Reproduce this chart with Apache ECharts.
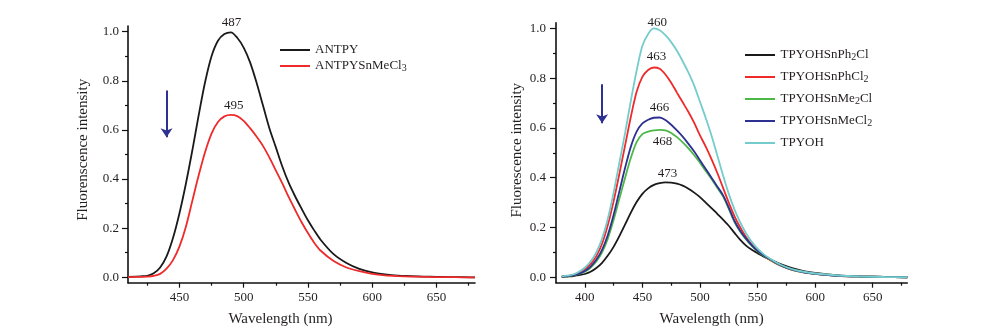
<!DOCTYPE html>
<html><head><meta charset="utf-8">
<script src="https://cdn.jsdelivr.net/npm/echarts@6/dist/echarts.min.js"></script>
<style>html,body{margin:0;padding:0;background:#fff}#c{width:981px;height:335px}</style>
</head><body><div id="c"></div>
<script>
// ---------- data ----------
const leftWavelength = [410,420,425,430,435,440,445,450,455,460,465,470,475,480,485,490,495,500,505,510,515,520,525,530,535,540,545,550,555,560,570,580,590,600,610,620,630,640,650,660,670,680];
const antpy = [0.002,0.004,0.006,0.016,0.04,0.085,0.16,0.26,0.38,0.515,0.66,0.795,0.9,0.963,0.99,0.997,0.975,0.935,0.875,0.793,0.7,0.607,0.53,0.452,0.385,0.33,0.28,0.232,0.19,0.152,0.094,0.058,0.034,0.02,0.012,0.007,0.005,0.003,0.002,0.001,0.001,0];
const antpySnMeCl3 = [0.001,0.002,0.003,0.006,0.014,0.035,0.07,0.125,0.205,0.31,0.415,0.51,0.585,0.632,0.655,0.661,0.656,0.637,0.607,0.573,0.535,0.488,0.435,0.383,0.327,0.275,0.225,0.18,0.14,0.108,0.066,0.04,0.025,0.014,0.008,0.005,0.003,0.002,0.001,0.001,0,0];

const rightWavelength = [380,385,390,395,400,405,410,415,420,425,430,435,440,445,450,455,460,465,470,475,480,485,490,495,500,505,510,515,520,525,530,535,540,545,550,555,560,570,580,590,600,620,640,660,680];
const tpyohSnPh2Cl = [0.001,0.003,0.005,0.008,0.013,0.022,0.037,0.058,0.087,0.122,0.165,0.212,0.26,0.302,0.335,0.357,0.371,0.378,0.381,0.38,0.376,0.368,0.356,0.34,0.322,0.3,0.278,0.255,0.232,0.207,0.178,0.15,0.127,0.11,0.097,0.084,0.073,0.053,0.037,0.025,0.017,0.007,0.003,0.001,0];
const tpyohSnPhCl2 = [0.002,0.005,0.009,0.018,0.032,0.053,0.085,0.135,0.21,0.305,0.415,0.53,0.645,0.745,0.805,0.833,0.843,0.838,0.815,0.782,0.742,0.703,0.664,0.62,0.57,0.525,0.475,0.42,0.36,0.3,0.245,0.2,0.162,0.132,0.11,0.089,0.071,0.046,0.03,0.02,0.014,0.006,0.003,0.001,0];
const tpyohSnMe2Cl = [0.002,0.004,0.007,0.013,0.022,0.038,0.063,0.1,0.155,0.23,0.315,0.4,0.48,0.543,0.575,0.585,0.59,0.592,0.59,0.58,0.563,0.542,0.518,0.49,0.46,0.427,0.395,0.36,0.325,0.275,0.222,0.183,0.152,0.126,0.104,0.087,0.073,0.047,0.03,0.02,0.014,0.006,0.003,0.001,0];
const tpyohSnMeCl2 = [0.002,0.004,0.008,0.014,0.025,0.043,0.07,0.11,0.17,0.25,0.345,0.44,0.525,0.585,0.618,0.633,0.641,0.642,0.632,0.613,0.59,0.565,0.536,0.505,0.47,0.435,0.4,0.365,0.33,0.28,0.226,0.186,0.155,0.128,0.106,0.089,0.075,0.048,0.03,0.02,0.014,0.006,0.003,0.001,0];
const tpyoh = [0.003,0.006,0.011,0.022,0.038,0.063,0.1,0.155,0.235,0.34,0.46,0.58,0.71,0.83,0.93,0.978,1.0,0.993,0.973,0.945,0.91,0.868,0.822,0.77,0.705,0.64,0.57,0.49,0.41,0.335,0.272,0.22,0.177,0.142,0.115,0.094,0.077,0.05,0.033,0.022,0.015,0.007,0.003,0.001,0];

const yMajorTicks = [0,0.2,0.4,0.6,0.8,1.0];
const yMinorTicks = [0.1,0.3,0.5,0.7,0.9];
const leftXMajor = [450,500,550,600,650];
const leftXMinor = [425,475,525,575,625,675];
const rightXMajor = [400,450,500,550,600,650];
const rightXMinor = [425,475,525,575,625,675];

const leftPeakLabels = [{text:'487', x:490.5, y:1.0, pos:'top', dist:3, series:0},
                        {text:'495', x:492.3, y:0.66, pos:'top', dist:3, series:1}];
const rightPeakLabels = [{text:'460', x:463, y:0.985, pos:'top', dist:3, series:4},
                         {text:'463', x:462.2, y:0.843, pos:'top', dist:4, series:1},
                         {text:'466', x:464.8, y:0.642, pos:'top', dist:3, series:3},
                         {text:'468', x:467.4, y:0.59, pos:'bottom', dist:5, series:2},
                         {text:'473', x:471.8, y:0.381, pos:'top', dist:2, series:0}];
const leftArrow = {x:440, from:0.76, to:0.57};
const rightArrow = {x:415, from:0.776, to:0.619};

const leftNames = ['ANTPY','ANTPYSnMeCl3'];
const rightNames = ['TPYOHSnPh2Cl','TPYOHSnPhCl2','TPYOHSnMe2Cl','TPYOHSnMeCl2','TPYOH'];
const legendRich = {
  'ANTPY':'{n|ANTPY}',
  'ANTPYSnMeCl3':'{n|ANTPYSnMeCl}{s|3}',
  'TPYOHSnPh2Cl':'{n|TPYOHSnPh}{s|2}{n|Cl}',
  'TPYOHSnPhCl2':'{n|TPYOHSnPhCl}{s|2}',
  'TPYOHSnMe2Cl':'{n|TPYOHSnMe}{s|2}{n|Cl}',
  'TPYOHSnMeCl2':'{n|TPYOHSnMeCl}{s|2}',
  'TPYOH':'{n|TPYOH}'
};

// ---------- style ----------
const FONT = 'Liberation Serif';
const TXT = '#231f20';
const AX = '#111';
const ARROW = '#2e3192';
const leftColors = ['#1a1a1a','#ee2a2a'];
const rightColors = ['#1a1a1a','#ee2a2a','#4cb848','#2e3192','#74cccc'];

function pairs(xs, ys){ return xs.map((x,i)=>[x, ys[i]]); }
function lineIcon(h){
  const a = h/2 - 0.9, b = h/2 + 0.9;
  return 'path://M0,0L0.01,0L0.01,0.01L0,0.01Z M0,'+a+'L30,'+a+'L30,'+b+'L0,'+b+'Z M29.99,'+(h-0.01)+'L30,'+(h-0.01)+'L30,'+h+'L29.99,'+h+'Z';
}

function xAxes(gridIndex, min, max, major, minor, namePadR){
  return [{
    type:'value', gridIndex, min, max, position:'bottom',
    name:'Wavelength (nm)', nameLocation:'middle', nameGap:29,
    nameTextStyle:{fontFamily:FONT,fontSize:15,color:TXT,padding:[0,namePadR,0,0]},
    axisLine:{show:true,onZero:false,lineStyle:{color:AX,width:1.6}},
    axisTick:{show:true,inside:false,length:5,customValues:major,lineStyle:{color:AX,width:1.2}},
    axisLabel:{show:true,customValues:major,margin:8,fontFamily:FONT,fontSize:13,color:TXT},
    splitLine:{show:false}
  },{
    type:'value', gridIndex, min, max, position:'bottom',
    axisLine:{show:false,onZero:false},
    axisTick:{show:true,inside:false,length:3,customValues:minor,lineStyle:{color:AX,width:1.2}},
    axisLabel:{show:false}, splitLine:{show:false}
  }];
}
function yAxes(gridIndex, name, nameGap, labelMargin, namePadL){
  return [{
    type:'value', gridIndex, min:-0.022, max:1.023, position:'left',
    name, nameLocation:'middle', nameGap,
    nameTextStyle:{fontFamily:FONT,fontSize:15,color:TXT,padding:[0,0,0,namePadL]},
    axisLine:{show:true,onZero:false,lineStyle:{color:AX,width:1.6}},
    axisTick:{show:true,inside:false,length:6,customValues:yMajorTicks,lineStyle:{color:AX,width:1.2}},
    axisLabel:{show:true,customValues:yMajorTicks,formatter:v=>Number(v).toFixed(1),margin:labelMargin,fontFamily:FONT,fontSize:13,color:TXT},
    splitLine:{show:false}
  },{
    type:'value', gridIndex, min:-0.022, max:1.023, position:'left',
    axisLine:{show:false,onZero:false},
    axisTick:{show:true,inside:false,length:3,customValues:yMinorTicks,lineStyle:{color:AX,width:1.2}},
    axisLabel:{show:false}, splitLine:{show:false}
  }];
}

function lineSeries(name, xs, ys, color, xi, yi){
  return {
    type:'line', name, data:pairs(xs, ys), xAxisIndex:xi, yAxisIndex:yi,
    symbol:'none', smooth:0.3, color,
    lineStyle:{color, width:1.8}, emphasis:{disabled:true}, silent:true, z:3
  };
}
function addPeakLabels(seriesArr, labels){
  labels.forEach(l=>{
    const s = seriesArr[l.series];
    if(!s.markPoint) s.markPoint = {symbol:'circle', symbolSize:0, silent:true, animation:false, data:[]};
    s.markPoint.data.push({name:l.text, coord:[l.x,l.y],
      label:{show:true, position:l.pos, distance:l.dist, formatter:'{b}', fontFamily:FONT, fontSize:13, color:TXT}});
  });
}
function addArrow(s, a){
  s.markLine = {silent:true, animation:false, symbol:['none','arrow'], symbolSize:9,
    lineStyle:{color:ARROW,width:2,type:'solid'}, label:{show:false}, emphasis:{disabled:true},
    data:[[{coord:[a.x,a.from]},{coord:[a.x,a.to]}]]};
}

const leftSeries = [
  lineSeries('ANTPY', leftWavelength, antpy, leftColors[0], 0, 0),
  lineSeries('ANTPYSnMeCl3', leftWavelength, antpySnMeCl3, leftColors[1], 0, 0)
];
const rightData = [tpyohSnPh2Cl, tpyohSnPhCl2, tpyohSnMe2Cl, tpyohSnMeCl2, tpyoh];
const rightSeries = rightNames.map((n,i)=>lineSeries(n, rightWavelength, rightData[i], rightColors[i], 2, 2));
addPeakLabels(leftSeries, leftPeakLabels);
addPeakLabels(rightSeries, rightPeakLabels);
addArrow(leftSeries[0], leftArrow);
addArrow(rightSeries[0], rightArrow);

function legendStyle(drop){
  return {fontFamily:FONT,fontSize:13,color:TXT,
    rich:{
      n:{fontFamily:FONT,fontSize:13,color:TXT,lineHeight:14,verticalAlign:'middle'},
      s:{fontFamily:FONT,fontSize:10,color:TXT,lineHeight:10,verticalAlign:'bottom',padding:[drop,0,0,0]}
    }};
}

const option = {
  animation:false,
  backgroundColor:'#fff',
  grid:[
    {left:128, top:26, width:347, height:256.7},
    {left:556, top:22.7, width:351.3, height:260}
  ],
  xAxis:[...xAxes(0,410,680,leftXMajor,leftXMinor,42), ...xAxes(1,375,680,rightXMajor,rightXMinor,40)],
  yAxis:[...yAxes(0,'Fluorenscence intensity',37,9,9), ...yAxes(1,'Fluorescence intensity',31,10,5)],
  legend:[
    {orient:'vertical', left:280, top:42, padding:0, itemWidth:30, itemHeight:16, itemGap:-1, selectedMode:false,
     icon:lineIcon(16), data:leftNames, formatter:n=>legendRich[n], textStyle:legendStyle(6)},
    {orient:'vertical', left:745, top:45, padding:0, itemWidth:31, itemHeight:20, itemGap:2, selectedMode:false,
     icon:lineIcon(20), data:rightNames, formatter:n=>legendRich[n], textStyle:legendStyle(7)}
  ],
  series:[...leftSeries, ...rightSeries]
};
const chart = echarts.init(document.getElementById('c'));
chart.setOption(option);
</script></body></html>
